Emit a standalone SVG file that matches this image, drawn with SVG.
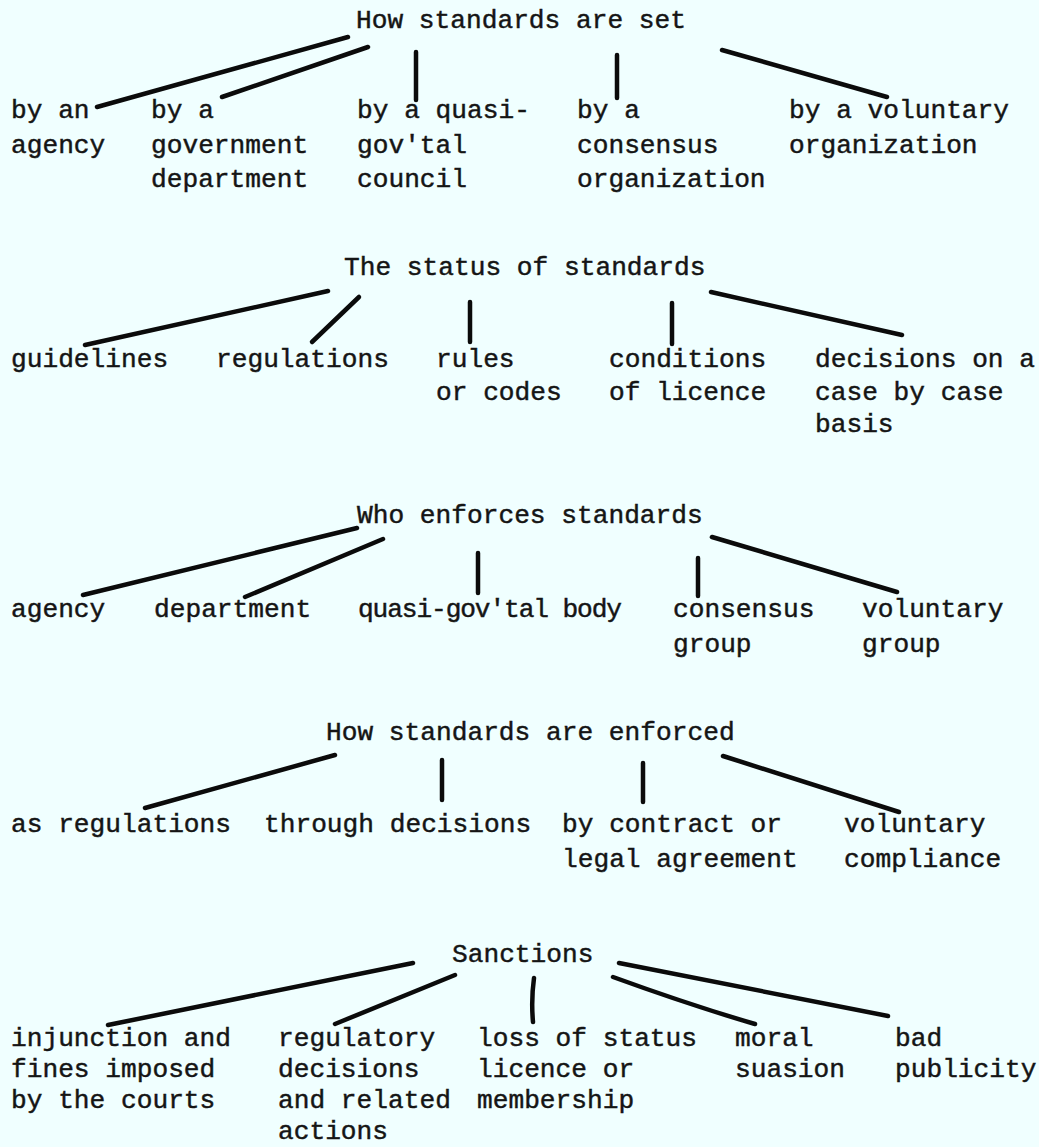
<svg xmlns="http://www.w3.org/2000/svg" width="1039" height="1147" viewBox="0 0 1039 1147">
<style>
.t{font-family:"Liberation Mono","Courier New",monospace;font-size:26.2px;fill:#151515;stroke:#151515;stroke-width:0.45px}
.c{stroke:#0b0b0b;stroke-width:4.5;stroke-linecap:round;fill:none}
</style>
<rect width="1039" height="1147" fill="#f0ffff"/>
<g id="connectors">
<path class="c" d="M348 37 L97 107"/>
<path class="c" d="M368 47 L222 97"/>
<path class="c" d="M416 52 L416 100"/>
<path class="c" d="M617 55 L617 98"/>
<path class="c" d="M722 50 L887 97"/>
<path class="c" d="M328 291 L85 345"/>
<path class="c" d="M359 297 L312 342"/>
<path class="c" d="M470 302 L470 342"/>
<path class="c" d="M672 303 L672 344"/>
<path class="c" d="M711 292 L902 335"/>
<path class="c" d="M357 528 L83 595"/>
<path class="c" d="M383 539 L245 597"/>
<path class="c" d="M478 553 L478 593"/>
<path class="c" d="M698 558 L698 596"/>
<path class="c" d="M712 537 L897 592"/>
<path class="c" d="M335 755 L145 808"/>
<path class="c" d="M442 760 L442 800"/>
<path class="c" d="M643 763 L643 802"/>
<path class="c" d="M723 756 L899 812"/>
<path class="c" d="M413 963 L108 1025"/>
<path class="c" d="M455 975 L335 1024"/>
<path class="c" d="M534 978 Q531 1000 533 1022"/>
<path class="c" d="M613 977 Q690 1005 755 1024"/>
<path class="c" d="M619 963 L888 1016"/>
</g>
<g id="set-title"><text class="t" x="356" y="28">How standards are set</text></g>
<g id="set-agency"><text class="t"><tspan x="11" y="118">by an</tspan><tspan x="11" y="153">agency</tspan></text></g>
<g id="set-department"><text class="t"><tspan x="151" y="118">by a</tspan><tspan x="151" y="153">government</tspan><tspan x="151" y="187">department</tspan></text></g>
<g id="set-quasi"><text class="t"><tspan x="357" y="118">by a quasi-</tspan><tspan x="357" y="153">gov'tal</tspan><tspan x="357" y="187">council</tspan></text></g>
<g id="set-consensus"><text class="t"><tspan x="577" y="118">by a</tspan><tspan x="577" y="153">consensus</tspan><tspan x="577" y="187">organization</tspan></text></g>
<g id="set-voluntary"><text class="t"><tspan x="789" y="118">by a voluntary</tspan><tspan x="789" y="153">organization</tspan></text></g>
<g id="status-title"><text class="t" x="344" y="275">The status of standards</text></g>
<g id="status-guidelines"><text class="t" x="11" y="367">guidelines</text></g>
<g id="status-regulations"><text class="t" x="216" y="367">regulations</text></g>
<g id="status-rules"><text class="t"><tspan x="436" y="367">rules</tspan><tspan x="436" y="400">or codes</tspan></text></g>
<g id="status-conditions"><text class="t"><tspan x="609" y="367">conditions</tspan><tspan x="609" y="400">of licence</tspan></text></g>
<g id="status-decisions"><text class="t"><tspan x="815" y="367">decisions on a</tspan><tspan x="815" y="400">case by case</tspan><tspan x="815" y="432">basis</tspan></text></g>
<g id="who-title"><text class="t" x="357" y="523">Who enforces standards</text></g>
<g id="who-agency"><text class="t" x="11" y="617">agency</text></g>
<g id="who-department"><text class="t" x="154" y="617">department</text></g>
<g id="who-quasi"><text class="t" x="358" y="617" textLength="264" lengthAdjust="spacing">quasi-gov'tal body</text></g>
<g id="who-consensus"><text class="t"><tspan x="673" y="617">consensus</tspan><tspan x="673" y="652">group</tspan></text></g>
<g id="who-voluntary"><text class="t"><tspan x="862" y="617">voluntary</tspan><tspan x="862" y="652">group</tspan></text></g>
<g id="how-title"><text class="t" x="326" y="740">How standards are enforced</text></g>
<g id="how-regulations"><text class="t" x="11" y="832">as regulations</text></g>
<g id="how-decisions"><text class="t" x="264" y="832">through decisions</text></g>
<g id="how-contract"><text class="t"><tspan x="562" y="832">by contract or</tspan><tspan x="562" y="867">legal agreement</tspan></text></g>
<g id="how-voluntary"><text class="t"><tspan x="844" y="832">voluntary</tspan><tspan x="844" y="867">compliance</tspan></text></g>
<g id="sanctions-title"><text class="t" x="452" y="962">Sanctions</text></g>
<g id="sanctions-injunction"><text class="t"><tspan x="11" y="1046">injunction and</tspan><tspan x="11" y="1077">fines imposed</tspan><tspan x="11" y="1108">by the courts</tspan></text></g>
<g id="sanctions-regulatory"><text class="t"><tspan x="278" y="1046">regulatory</tspan><tspan x="278" y="1077">decisions</tspan><tspan x="278" y="1108">and related</tspan><tspan x="278" y="1139">actions</tspan></text></g>
<g id="sanctions-loss"><text class="t"><tspan x="477" y="1046">loss of status</tspan><tspan x="477" y="1077">licence or</tspan><tspan x="477" y="1108">membership</tspan></text></g>
<g id="sanctions-moral"><text class="t"><tspan x="735" y="1046">moral</tspan><tspan x="735" y="1077">suasion</tspan></text></g>
<g id="sanctions-bad"><text class="t"><tspan x="895" y="1046">bad</tspan><tspan x="895" y="1077">publicity</tspan></text></g>
</svg>
